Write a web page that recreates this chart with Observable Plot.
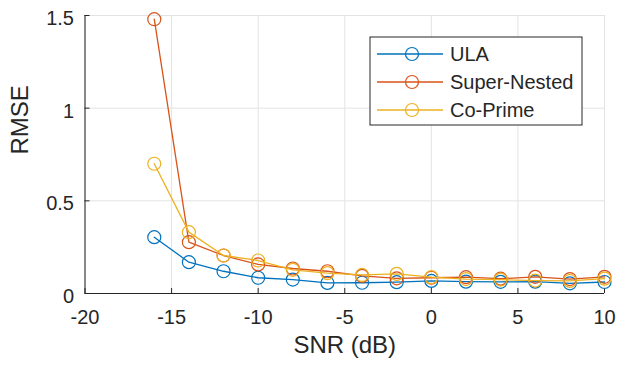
<!DOCTYPE html>
<html><head><meta charset="utf-8">
<script src="https://cdn.jsdelivr.net/npm/d3@7"></script>
<script src="https://cdn.jsdelivr.net/npm/@observablehq/plot@0.6"></script>
<style>body{margin:0;background:#fff} #chart{position:relative;width:618px;height:366px}</style>
</head><body><div id="chart"></div>
<script>
const snr = [-16,-14,-12,-10,-8,-6,-4,-2,0,2,4,6,8,10];
const ula = [0.304,0.169,0.12,0.085,0.075,0.057,0.058,0.061,0.068,0.064,0.063,0.064,0.055,0.062];
const superNested = [1.48,0.277,0.205,0.157,0.135,0.12,0.095,0.082,0.085,0.088,0.08,0.09,0.078,0.09];
const coPrime = [0.70,0.331,0.205,0.178,0.128,0.11,0.10,0.106,0.088,0.078,0.075,0.07,0.068,0.08];
const seriesNames = ["ULA","Super-Nested","Co-Prime"];
const seriesColors = ["#0072BD","#D95319","#EDB120"];
const xTicks = [-20,-15,-10,-5,0,5,10];
const yTicks = [0,0.5,1,1.5];
const xLabel = "SNR (dB)";
const yLabel = "RMSE";

const seriesValues = [ula, superNested, coPrime];
const data = [];
seriesNames.forEach((name,i)=>snr.forEach((x,j)=>data.push({series:name, snr:x, rmse:seriesValues[i][j]})));

const font = "'Liberation Sans', Arial, Helvetica, sans-serif";
const ink = "#262626";
const gridColor = "#e3e3e3";

const seriesMarks = seriesNames.flatMap(name => {
  const d = data.filter(r => r.series === name);
  return [
    Plot.line(d, {x:"snr", y:"rmse", stroke:"series", strokeWidth:1.3}),
    Plot.dot(d, {x:"snr", y:"rmse", stroke:"series", r:6.5, strokeWidth:1.2, fill:"none"})
  ];
});

const plot = Plot.plot({
  width:618, height:366,
  marginLeft:84.5, marginRight:14, marginTop:15, marginBottom:73,
  style:{fontFamily:font, fontSize:"20px", color:ink, background:"white"},
  x:{domain:[-20,10], ticks:xTicks},
  y:{domain:[0,1.5], ticks:yTicks},
  color:{domain:seriesNames, range:seriesColors},
  marks:[
    Plot.gridX(xTicks, {stroke:gridColor, strokeOpacity:1}),
    Plot.gridY(yTicks, {stroke:gridColor, strokeOpacity:1}),
    Plot.frame({stroke:gridColor}),
    Plot.axisX(xTicks, {tickSize:0, tickPadding:16, label:null, fontSize:20, tickFormat:d=>String(d)}),
    Plot.axisX(xTicks, {tickSize:5, dy:-5, tickFormat:()=>"", label:null, stroke:ink}),
    Plot.axisY(yTicks, {tickSize:0, tickPadding:11, dy:3, label:null, fontSize:20, tickFormat:d=>String(d)}),
    Plot.axisY(yTicks, {tickSize:5, dx:5, tickFormat:()=>"", label:null, stroke:ink}),
    Plot.ruleY([0], {stroke:ink}),
    Plot.ruleX([-20], {stroke:ink}),
    ...seriesMarks,
    Plot.text([xLabel], {frameAnchor:"bottom", dy:59, fontSize:24, fill:ink}),
    Plot.text([yLabel], {frameAnchor:"left", dx:-64.5, rotate:-90, fontSize:24, fill:ink})
  ]
});
document.getElementById("chart").appendChild(plot);

// legend inside plot (upper right)
const svg = d3.select(plot);
const lg = svg.append("g").attr("transform","translate(370,37)");
lg.append("rect").attr("width",212).attr("height",88).attr("fill","white").attr("stroke",ink).attr("stroke-width",1);
seriesNames.forEach((name,i)=>{
  const y = 17 + i*28;
  const g = lg.append("g").attr("transform",`translate(0,${y})`);
  g.append("line").attr("x1",7).attr("x2",73).attr("y1",0).attr("y2",0).attr("stroke",seriesColors[i]).attr("stroke-width",1.3);
  g.append("circle").attr("cx",42).attr("cy",0).attr("r",6.5).attr("fill","none").attr("stroke",seriesColors[i]).attr("stroke-width",1.2);
  g.append("text").attr("x",80).attr("y",0).attr("dy","0.35em").attr("text-anchor","start").attr("font-size",20).attr("font-family",font).attr("fill",ink).text(name);
});
</script>
</body></html>
